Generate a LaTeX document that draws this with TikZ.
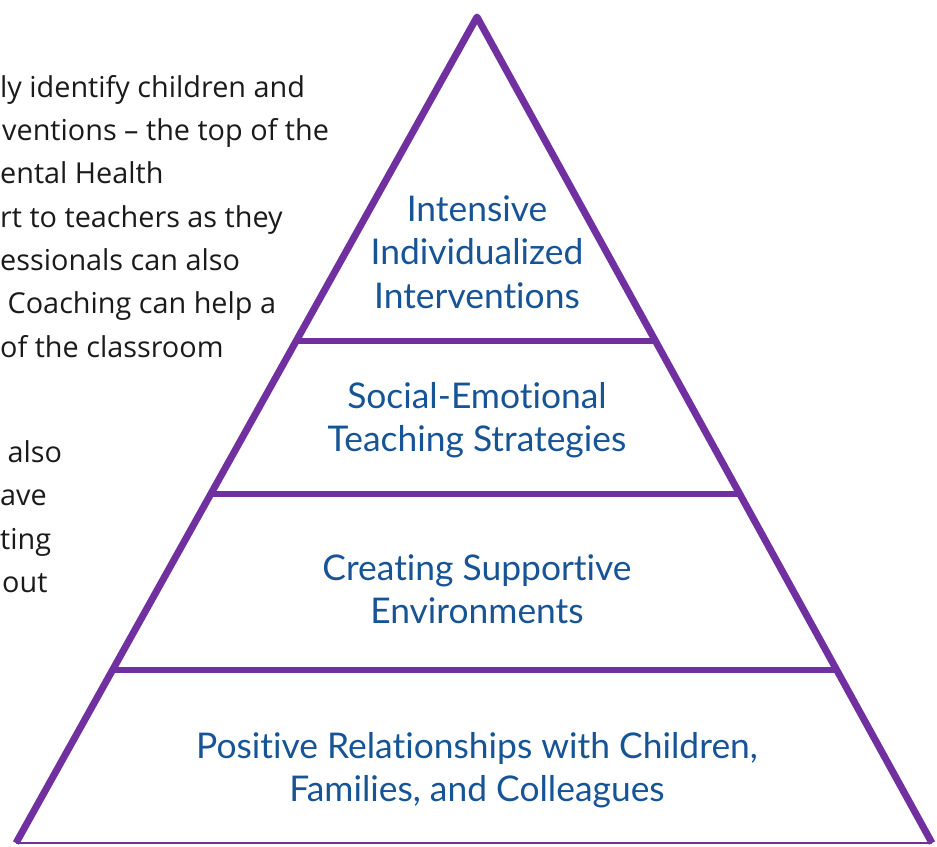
\documentclass[tikz,border=0pt]{standalone}
\usepackage{fontspec}
\setmainfont{Lato}[RawFeature={-liga}]
\newfontfamily\bodyfont{Open Sans}
\usetikzlibrary{calc}
\definecolor{tierline}{RGB}{112,48,160}
\definecolor{tiertext}{RGB}{22,84,150}
\definecolor{bodytext}{RGB}{26,26,26}
\begin{document}
\begin{tikzpicture}[x=1pt,y=-1pt,
  edge/.style={draw=tierline,line width=7pt,line join=round},
  divider/.style={draw=tierline,line width=5.5pt},
  baseline rule/.style={draw=tierline,line width=2pt},
  tierlabel/.style={text=tiertext,align=center,inner sep=0pt,
    font=\fontsize{35.4}{43.5}\selectfont},
  bodyline/.style={text=bodytext,anchor=base west,inner sep=0pt,
    font=\bodyfont\fontsize{28.8}{43.5}\selectfont}]
\useasboundingbox (0,0) rectangle (937,846);
\clip (0,0) rectangle (937,846);

% body text running behind the left edge
\node[bodyline] (p1) at (0,97)  {ly identify children and};
\node[bodyline] (p2) at (2,140) {ventions – the top of the};
\node[bodyline] (p3) at (0,183) {ental Health};
\node[bodyline] (p4) at (0,227) {rt to teachers as they};
\node[bodyline] (p5) at (0,270) {essionals can also};
\node[bodyline] (p6) at (0,313) {\ Coaching can help a};
\node[bodyline] (p7) at (0,357) {of the classroom};
\node[bodyline] (p8) at (0,462) {\ also};
\node[bodyline] (p9) at (0,505) {ave};
\node[bodyline] (p10) at (0,549) {ting};
\node[bodyline] (p11) at (2,592) {out};

% pyramid outline
\coordinate (apex) at (477,17);
\coordinate (bl) at (16,843);
\coordinate (br) at (932,843);
\draw[edge] (bl) -- (apex) -- (br);
\draw[baseline rule] (bl) -- (br);

% tier dividers
\foreach \t/\n in {0.392/a,0.5775/b,0.7906/c}{
  \coordinate (L\n) at ($(apex)!\t!(bl)$);
  \coordinate (R\n) at ($(apex)!\t!(br)$);
  \draw[divider] (L\n) -- (R\n);
}

% tier labels
\node[tierlabel] (tier1) at (477,252) {Intensive\\Individualized\\Interventions};
\node[tierlabel] (tier2) at (477,420) {Social-Emotional\\Teaching Strategies};
\node[tierlabel] (tier3) at (477,589) {Creating Supportive\\Environments};
\node[tierlabel] (tier4) at (477,770) {Positive Relationships with Children,\\Families, and Colleagues};
\end{tikzpicture}
\end{document}
